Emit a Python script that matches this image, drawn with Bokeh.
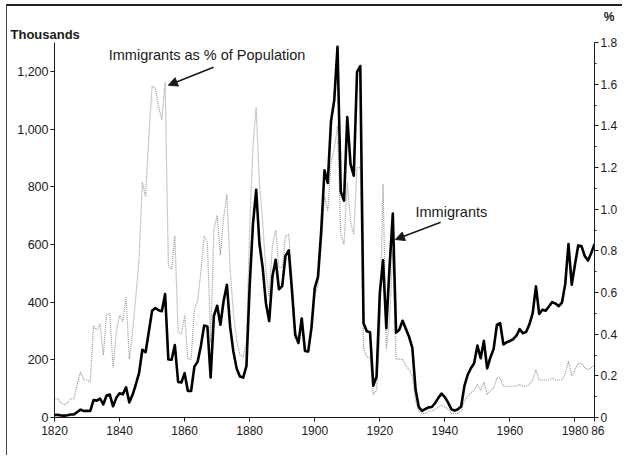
from bokeh.plotting import figure
from bokeh.models import (Range1d, LinearAxis, FixedTicker, NumeralTickFormatter,
                          CustomJSTickFormatter, Label, Arrow, NormalHead, Title)
from bokeh.embed import file_html
from bokeh.resources import INLINE

years = list(range(1820, 1987))

# Immigrants, thousands
immigrants = [
    8.4, 9.1, 6.9, 6.4, 7.9, 10.2, 10.8, 18.9, 27.4, 22.5,            # 1820-29
    23.3, 22.6, 60.5, 58.6, 65.4, 45.4, 76.2, 79.3, 38.9, 68.1,       # 1830-39
    84.1, 80.3, 104.6, 52.5, 78.6, 114.4, 154.4, 235.0, 226.5, 297.0, # 1840-49
    369.9, 379.5, 371.6, 368.6, 427.8, 200.9, 200.4, 251.3, 123.1, 121.3,  # 1850-59
    153.6, 91.9, 91.9, 176.3, 193.4, 248.1, 318.6, 315.7, 138.8, 352.8,    # 1860-69
    387.2, 321.4, 404.8, 460.0, 313.3, 227.5, 169.9, 141.9, 138.5, 177.8,  # 1870-79
    457.3, 669.4, 789.0, 603.3, 518.6, 395.3, 334.2, 490.1, 547.0, 444.4,  # 1880-89
    455.3, 560.3, 579.7, 439.7, 285.6, 258.5, 343.3, 230.8, 229.3, 311.7,  # 1890-99
    448.6, 487.9, 648.7, 857.0, 812.9, 1026.5, 1100.7, 1285.3, 782.9, 751.8,  # 1900-09
    1041.6, 878.6, 838.2, 1197.9, 1218.5, 326.7, 298.8, 295.4, 110.6, 141.1,  # 1910-19
    430.0, 545.0, 309.6, 522.9, 706.9, 294.3, 304.5, 335.2, 307.3, 279.7,  # 1920-29
    241.7, 97.1, 35.6, 23.1, 29.5, 35.0, 36.3, 50.2, 68.0, 82.9,          # 1930-39
    70.8, 51.8, 28.8, 23.7, 28.6, 38.1, 108.7, 147.3, 170.6, 188.3,       # 1940-49
    249.2, 205.7, 265.5, 170.4, 208.2, 237.8, 321.6, 326.9, 253.3, 260.7, # 1950-59
    265.4, 271.3, 283.8, 306.3, 292.2, 297.0, 323.0, 362.0, 454.4, 358.6, # 1960-69
    373.3, 370.5, 384.7, 400.1, 394.9, 386.2, 398.6, 462.3, 601.4, 460.3, # 1970-79
    530.6, 596.6, 594.1, 559.8, 543.9, 570.0, 601.7,                      # 1980-86
]

# Immigrants as % of population
pct = [
    0.09, 0.09, 0.07, 0.06, 0.07, 0.09, 0.09, 0.16, 0.22, 0.18,
    0.18, 0.17, 0.44, 0.42, 0.45, 0.30, 0.49, 0.50, 0.24, 0.41,
    0.49, 0.46, 0.58, 0.28, 0.41, 0.58, 0.76, 1.13, 1.06, 1.35,
    1.59, 1.58, 1.49, 1.43, 1.61, 0.73, 0.71, 0.87, 0.41, 0.40,
    0.49, 0.28, 0.28, 0.52, 0.56, 0.70, 0.87, 0.84, 0.36, 0.90,
    0.97, 0.78, 0.96, 1.07, 0.71, 0.50, 0.37, 0.30, 0.29, 0.36,
    0.91, 1.30, 1.49, 1.12, 0.94, 0.70, 0.58, 0.83, 0.90, 0.72,
    0.72, 0.87, 0.88, 0.66, 0.42, 0.37, 0.48, 0.32, 0.31, 0.42,
    0.59, 0.63, 0.82, 1.06, 0.99, 1.22, 1.29, 1.40, 0.88, 0.83,
    1.13, 0.94, 0.88, 1.20, 1.20, 0.33, 0.29, 0.29, 0.11, 0.13,
    0.40, 1.12, 0.33, 0.47, 0.80, 0.28, 0.28, 0.28, 0.25, 0.23,
    0.20, 0.08, 0.03, 0.02, 0.02, 0.03, 0.03, 0.04, 0.05, 0.06,
    0.05, 0.04, 0.02, 0.02, 0.02, 0.03, 0.08, 0.10, 0.12, 0.13,
    0.16, 0.13, 0.17, 0.11, 0.13, 0.14, 0.19, 0.19, 0.15, 0.15,
    0.15, 0.15, 0.15, 0.16, 0.15, 0.15, 0.16, 0.18, 0.23, 0.18,
    0.18, 0.18, 0.18, 0.19, 0.18, 0.18, 0.18, 0.21, 0.27, 0.20,
    0.23, 0.26, 0.26, 0.24, 0.23, 0.24, 0.25,
]

x_ticks = [1820, 1840, 1860, 1880, 1900, 1920, 1940, 1960, 1980, 1986]
left_ticks = [0, 200, 400, 600, 800, 1000, 1200]
right_ticks = [0, 0.2, 0.4, 0.6, 0.8, 1.0, 1.2, 1.4, 1.6, 1.8]
right_minor = [0.1, 0.3, 0.5, 0.7, 0.9, 1.1, 1.3, 1.5, 1.7]

FONT = "Liberation Sans"
INK = "#1a1a1a"

p = figure(width=616, height=451, x_range=Range1d(1820, 1986), y_range=Range1d(0, 1300),
           output_backend="svg", toolbar_location=None,
           min_border_left=47, min_border_right=29, min_border_top=36, min_border_bottom=40)
p.grid.visible = False
p.outline_line_color = None
p.background_fill_color = "white"
p.border_fill_color = "white"
# scanned page frame: rule along the top and left edge
p.styles = {"margin-top": "4px", "margin-left": "6px",
            "border-top": "2px solid #222", "border-left": "1px solid #444"}

p.extra_y_ranges = {"pct": Range1d(0, 1.8)}

def style_axis(ax):
    ax.axis_line_color = INK
    ax.axis_line_width = 1
    ax.major_tick_line_color = INK
    ax.minor_tick_line_color = INK
    ax.major_tick_out = 4
    ax.major_tick_in = 0
    ax.minor_tick_out = 2
    ax.minor_tick_in = 0
    ax.major_label_standoff = 2
    ax.major_label_text_font = FONT
    ax.major_label_text_font_size = "12.5px"
    ax.major_label_text_color = INK

xa = p.xaxis[0]
xa.ticker = FixedTicker(ticks=x_ticks)
xa.major_label_overrides = {1986: "\u00a0\u00a086"}
style_axis(xa)
xa.major_label_text_font_size = "12px"

ya = p.yaxis[0]
ya.ticker = FixedTicker(ticks=left_ticks)
ya.formatter = NumeralTickFormatter(format="0,0")
style_axis(ya)

ra = LinearAxis(y_range_name="pct",
                ticker=FixedTicker(ticks=right_ticks, minor_ticks=right_minor),
                formatter=CustomJSTickFormatter(code="return tick < 0.001 ? '0' : tick.toFixed(1);"))
style_axis(ra)
ra.major_label_text_font_size = "12px"
p.add_layout(ra, "right")

p.line(years, pct, y_range_name="pct", line_color="#9a9a9a", line_width=1.2, line_dash="1 1")
p.line(years, immigrants, line_color="black", line_width=2.6, line_join="round")

# Axis unit captions above the frame
p.add_layout(Title(text="Thousands", align="left", offset=-44, standoff=1, text_font=FONT,
                   text_font_size="13px", text_font_style="bold", text_color=INK), "above")
p.add_layout(Title(text="%", align="right", offset=-20, standoff=2, text_font=FONT,
                   text_font_size="12px", text_font_style="bold", text_color=INK), "above")

p.add_layout(Label(x=1866.9, y=1256, text="Immigrants as % of Population", text_font=FONT,
                   text_font_size="14.5px", text_baseline="middle", text_align="center", text_color=INK))
p.add_layout(Label(x=1942.0, y=711, text="Immigrants", text_font=FONT,
                   text_font_size="14.5px", text_baseline="middle", text_align="center", text_color=INK))

p.add_layout(Arrow(end=NormalHead(size=9, fill_color=INK, line_color=INK),
                   x_start=1868.9, y_start=1214, x_end=1855.0, y_end=1152,
                   line_color=INK, line_width=1.6))
p.add_layout(Arrow(end=NormalHead(size=9, fill_color=INK, line_color=INK),
                   x_start=1938.7, y_start=677, x_end=1924.8, y_end=617,
                   line_color=INK, line_width=1.6))

open("out.html", "w").write(file_html(p, INLINE))
